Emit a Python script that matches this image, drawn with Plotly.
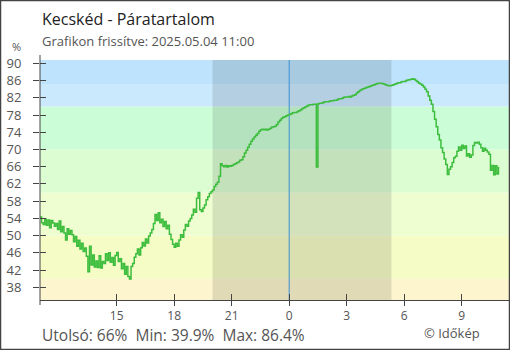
import pandas as pd
import plotly.graph_objects as go

# Relative humidity, 5-minute readings from 2025-05-03 11:00
start_time = "2025-05-03 11:00"
humidity = [
    54.3, 53.0, 52.6, 53.8, 52.4, 53.6, 51.8, 53.5, 52.9, 52.2,
    52.8, 51.4, 53.4, 50.9, 52.1, 50.6, 49.0, 51.6, 50.3, 51.2,
    50.2, 48.6, 49.8, 47.5, 48.9, 46.9, 48.2, 46.3, 47.1, 45.2,
    41.6, 47.5, 43.2, 45.5, 42.7, 44.1, 42.6, 45.3, 42.5, 44.0,
    43.5, 45.8, 44.2, 46.0, 43.8, 44.9, 43.1, 45.4, 46.1, 44.0,
    44.6, 42.3, 43.5, 41.0, 42.8, 40.5, 39.9, 42.8, 43.5, 45.0,
    45.8, 46.9, 45.5, 47.2, 48.4, 47.6, 49.2, 48.3, 49.9, 50.6,
    51.4, 52.8, 54.9, 53.5, 55.3, 53.0, 53.8, 52.1, 53.3, 51.6,
    52.4, 50.3, 49.1, 48.0, 47.3, 48.2, 47.5, 49.0, 50.2, 49.6,
    51.3, 52.6, 52.2, 53.4, 54.0, 54.8, 56.1, 55.4, 58.7, 60.0,
    56.0, 55.6, 56.4, 57.1, 58.3, 59.0, 59.8, 60.2, 60.6, 61.4,
    61.9, 62.4, 63.8, 66.7, 66.2, 66.0, 66.3, 65.9, 66.2, 66.1,
    66.3, 66.5, 66.7, 66.9, 67.1, 67.5, 67.6, 68.3, 69.2, 69.8,
    70.5, 71.2, 71.9, 72.4, 72.9, 73.3, 73.7, 74.2, 74.6, 74.7,
    74.6, 74.7, 74.5, 74.7, 74.9, 75.2, 75.3, 75.4, 75.8, 76.4,
    76.8, 77.2, 77.5, 77.6, 77.8, 78.0, 78.1, 78.3, 78.5, 78.6,
    78.6, 78.8, 79.0, 79.2, 79.5, 79.7, 79.9, 80.1, 80.3, 80.4,
    80.4, 80.5, 80.5, 65.9, 80.6, 80.7, 80.7, 80.9, 81.1, 81.1,
    81.1, 81.2, 81.3, 81.3, 81.4, 81.4, 81.6, 81.8, 81.8, 81.9,
    82.1, 82.2, 82.2, 82.3, 82.2, 82.4, 82.6, 82.7, 83.1, 83.4,
    83.7, 83.9, 84.1, 84.2, 84.4, 84.5, 84.6, 84.8, 84.9, 85.0,
    85.2, 85.3, 85.4, 85.4, 85.3, 85.2, 85.0, 84.9, 84.8, 84.8,
    84.9, 85.0, 85.2, 85.3, 85.5, 85.5, 85.7, 85.8, 85.8, 86.0,
    86.1, 86.2, 86.3, 86.4, 86.3, 86.0, 85.7, 85.4, 85.2, 84.9,
    84.5, 84.0, 83.4, 82.4, 81.4, 80.5, 78.8, 77.0, 75.3, 73.5,
    72.2, 70.4, 69.3, 67.8, 66.5, 64.2, 65.4, 66.0, 67.0, 68.1,
    68.4, 69.6, 70.6, 69.8, 71.0, 70.2, 70.8, 68.5, 69.0, 68.2,
    68.7, 70.9, 71.6, 71.5, 71.7, 71.2, 70.4, 69.6, 70.3, 69.8,
    69.4, 68.9, 65.2, 66.3, 64.1, 66.2, 64.3, 66.0,
]
times = pd.date_range(start_time, periods=len(humidity), freq="5min")

x_range = ["2025-05-03 11:00", "2025-05-04 11:28"]
y_range = [35.05, 90.77]

tick_times = ["2025-05-03 15:00", "2025-05-03 18:00", "2025-05-03 21:00",
              "2025-05-04 00:00", "2025-05-04 03:00", "2025-05-04 06:00",
              "2025-05-04 09:00"]
tick_labels = ["15", "18", "21", "0", "3", "6", "9"]
y_ticks = list(range(38, 91, 4))

# humidity zones: (lower, upper, colour)
band_edges = [35.05, 40, 50, 60, 70, 80, 85, 90.77]
band_colors = ["#fdf5cd", "#f5fcc6", "#eefed1", "#dcfdd1",
               "#cbfed7", "#cbe9fd", "#bde3fd"]

night_start = "2025-05-03 20:00"
night_end = "2025-05-04 05:20"
midnight = "2025-05-04 00:00"

title = "Kecskéd - Páratartalom"
subtitle = "Grafikon frissítve: 2025.05.04 11:00"
last_val, min_val, max_val = 66, 39.9, 86.4

FONT = "Open Sans"
W, H = 510, 350
ML, MR, MT, MB = 40, 1, 60, 50
PW, PH = W - ML - MR, H - MT - MB

fig = go.Figure()
fig.add_trace(go.Scatter(
    x=times, y=humidity, mode="lines",
    line=dict(color="#3dbd3d", width=1.5, shape="hv"),
    showlegend=False, hoverinfo="skip",
))
# companion axes for the inner half of the crossing tick marks
fig.add_trace(go.Scatter(x=[], y=[], xaxis="x2", yaxis="y2",
                         showlegend=False, hoverinfo="skip"))

shapes = []
for lo, hi, col in zip(band_edges[:-1], band_edges[1:], band_colors):
    shapes.append(dict(type="rect", xref="paper", yref="y", x0=0, x1=1,
                       y0=lo, y1=hi, fillcolor=col, line_width=0,
                       layer="below"))
shapes.append(dict(type="rect", xref="x", yref="paper", x0=night_start,
                   x1=night_end, y0=0, y1=1, fillcolor="rgba(0,0,0,0.11)",
                   line_width=0, layer="below"))
shapes.append(dict(type="line", xref="x", yref="paper", x0=midnight,
                   x1=midnight, y0=0, y1=1,
                   line=dict(color="#3b8ed0", width=1), layer="below"))
# y axis line running a little past both ends of the plot
shapes.append(dict(type="line", xref="paper", yref="paper", x0=0, x1=0,
                   y0=-5 / PH, y1=1 + 5 / PH,
                   line=dict(color="#444444", width=1)))
# outer frame
shapes.append(dict(type="rect", xref="paper", yref="paper",
                   x0=-ML / PW, x1=(W - ML) / PW,
                   y0=-MB / PH, y1=(H - MB) / PH,
                   line=dict(color="#444444", width=2.5)))

annotations = [
    dict(text=title, xref="paper", yref="paper", x=0, y=1 + (MT - 18.5) / PH,
         xanchor="left", yanchor="middle", showarrow=False,
         font=dict(family=FONT, size=16, color="#222222")),
    dict(text=subtitle, xref="paper", yref="paper", x=0, y=1 + (MT - 41) / PH,
         xanchor="left", yanchor="middle", showarrow=False,
         font=dict(family=FONT, size=13, color="#555555")),
    dict(text="%", xref="paper", yref="paper", x=-24 / PW, y=1 + (MT - 47) / PH,
         xanchor="center", yanchor="middle", showarrow=False,
         font=dict(family=FONT, size=11, color="#555555")),
    dict(text=f"Utolsó: {last_val}%  Min: {min_val}%  Max: {max_val}%",
         xref="paper", yref="paper", x=0, y=-(334.5 - MT - PH) / PH,
         xanchor="left", yanchor="middle", showarrow=False,
         font=dict(family=FONT, size=15.5, color="#555555")),
    dict(text="© Időkép", xref="paper", yref="paper", x=(482 - ML) / PW,
         y=-(332.5 - MT - PH) / PH, xanchor="right", yanchor="middle",
         showarrow=False, font=dict(family=FONT, size=13, color="#555555")),
]

axis_common = dict(showgrid=False, zeroline=False)
fig.update_layout(
    width=W, height=H,
    margin=dict(l=ML, r=MR, t=MT, b=MB),
    paper_bgcolor="white", plot_bgcolor="white",
    font=dict(family=FONT, color="#555555"),
    xaxis=dict(type="date", range=x_range, tickmode="array",
               tickvals=tick_times, ticktext=tick_labels,
               ticks="outside", ticklen=5, tickcolor="#444444",
               showline=True, linecolor="#444444", linewidth=1,
               tickfont=dict(family=FONT, size=12, color="#555555"),
               **axis_common),
    yaxis=dict(range=y_range, tickmode="array", tickvals=y_ticks,
               ticks="outside", ticklen=6, tickcolor="#444444",
               showline=False, ticklabelstandoff=9,
               tickfont=dict(family=FONT, size=13, color="#555555"),
               **axis_common),
    xaxis2=dict(type="date", range=x_range, overlaying="x", anchor="y2",
                side="bottom", tickmode="array", tickvals=tick_times,
                ticks="inside", ticklen=6, tickcolor="#444444",
                showticklabels=False, showline=False, **axis_common),
    yaxis2=dict(range=y_range, overlaying="y", anchor="x2", side="left",
                tickmode="array", tickvals=y_ticks, ticks="inside",
                ticklen=6, tickcolor="#444444", showticklabels=False,
                showline=False, **axis_common),
    shapes=shapes,
    annotations=annotations,
)

fig.write_html("out.html")
